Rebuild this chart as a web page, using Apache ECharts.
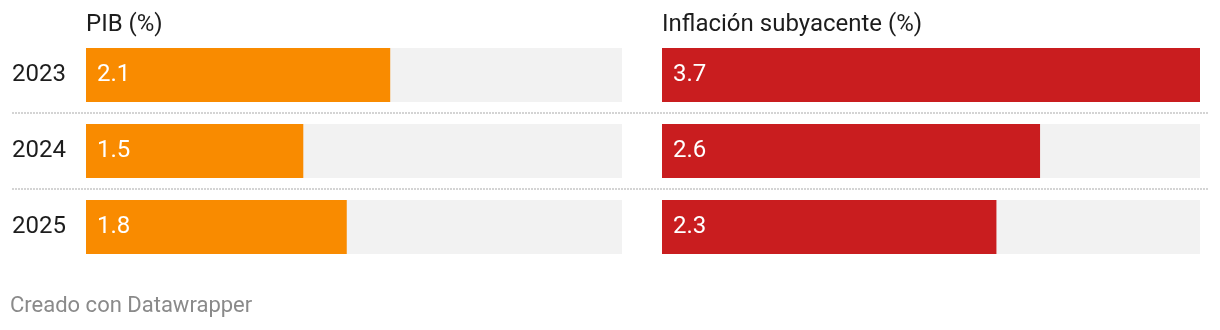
<!DOCTYPE html>
<html>
<head>
<meta charset="utf-8">
<script src="https://cdn.jsdelivr.net/npm/echarts@6/dist/echarts.min.js"></script>
<style>
  html, body { margin: 0; padding: 0; background: #ffffff; }
  #chart { width: 1220px; height: 330px; }
</style>
</head>
<body>
<div id="chart"></div>
<script>
// Proyecciones por año
const years = ['2023', '2024', '2025'];
const pib = [2.1, 1.5, 1.8];
const inflacion = [3.7, 2.6, 2.3];
const panelTitles = ['PIB (%)', 'Inflación subyacente (%)'];
const footer = 'Creado con Datawrapper';

const scaleMax = 3.7;
const font = 'Roboto, "Noto Sans", sans-serif';
const gridTop = 37, gridHeight = 228;

function valueAxis(gridIndex) {
  return {
    type: 'value', gridIndex, min: 0, max: scaleMax,
    show: false, splitLine: { show: false }
  };
}
function categoryAxis(gridIndex, showLabels) {
  return {
    type: 'category', gridIndex, data: years, inverse: true,
    axisLine: { show: false }, axisTick: { show: false }, splitLine: { show: false },
    axisLabel: {
      show: showLabels, align: 'left', margin: 74,
      color: '#1d1d1d', fontFamily: font, fontSize: 24
    }
  };
}
function barSeries(idx, data, color) {
  return {
    type: 'bar', xAxisIndex: idx, yAxisIndex: idx, data,
    barWidth: 54, silent: true,
    itemStyle: { color },
    showBackground: true,
    backgroundStyle: { color: '#f2f2f2' },
    label: {
      show: true, position: 'insideLeft', distance: 11,
      color: '#ffffff', fontFamily: font, fontSize: 24,
      formatter: p => p.value.toFixed(1)
    }
  };
}

const titleStyle = { color: '#1d1d1d', fontFamily: font, fontSize: 24, fontWeight: 'normal' };

const chart = echarts.init(document.getElementById('chart'), null, { renderer: 'canvas' });
chart.setOption({
  backgroundColor: '#ffffff',
  animation: false,
  title: [
    { text: panelTitles[0], left: 86, top: 13, padding: 0, textStyle: titleStyle },
    { text: panelTitles[1], left: 662, top: 13, padding: 0, textStyle: titleStyle },
    { text: footer, left: 10, top: 295, padding: 0,
      textStyle: { color: '#8a8a8a', fontFamily: font, fontSize: 22, fontWeight: 'normal' } }
  ],
  grid: [
    { left: 86, width: 536, top: gridTop, height: gridHeight },
    { left: 662, width: 538, top: gridTop, height: gridHeight },
    // row separators across both panels
    { left: 12, width: 1196, top: gridTop, height: gridHeight }
  ],
  xAxis: [valueAxis(0), valueAxis(1), { type: 'value', gridIndex: 2, show: false }],
  yAxis: [
    categoryAxis(0, true),
    categoryAxis(1, false),
    {
      type: 'value', gridIndex: 2, min: 0, max: years.length, interval: 1, inverse: true,
      axisLine: { show: false }, axisTick: { show: false }, axisLabel: { show: false },
      splitLine: {
        show: true, showMinLine: false, showMaxLine: false,
        lineStyle: { color: '#d4d4d4', width: 2, type: [2, 1] }
      }
    }
  ],
  series: [
    barSeries(0, pib, '#f98b00'),
    barSeries(1, inflacion, '#c91d1f')
  ]
});
</script>
</body>
</html>
